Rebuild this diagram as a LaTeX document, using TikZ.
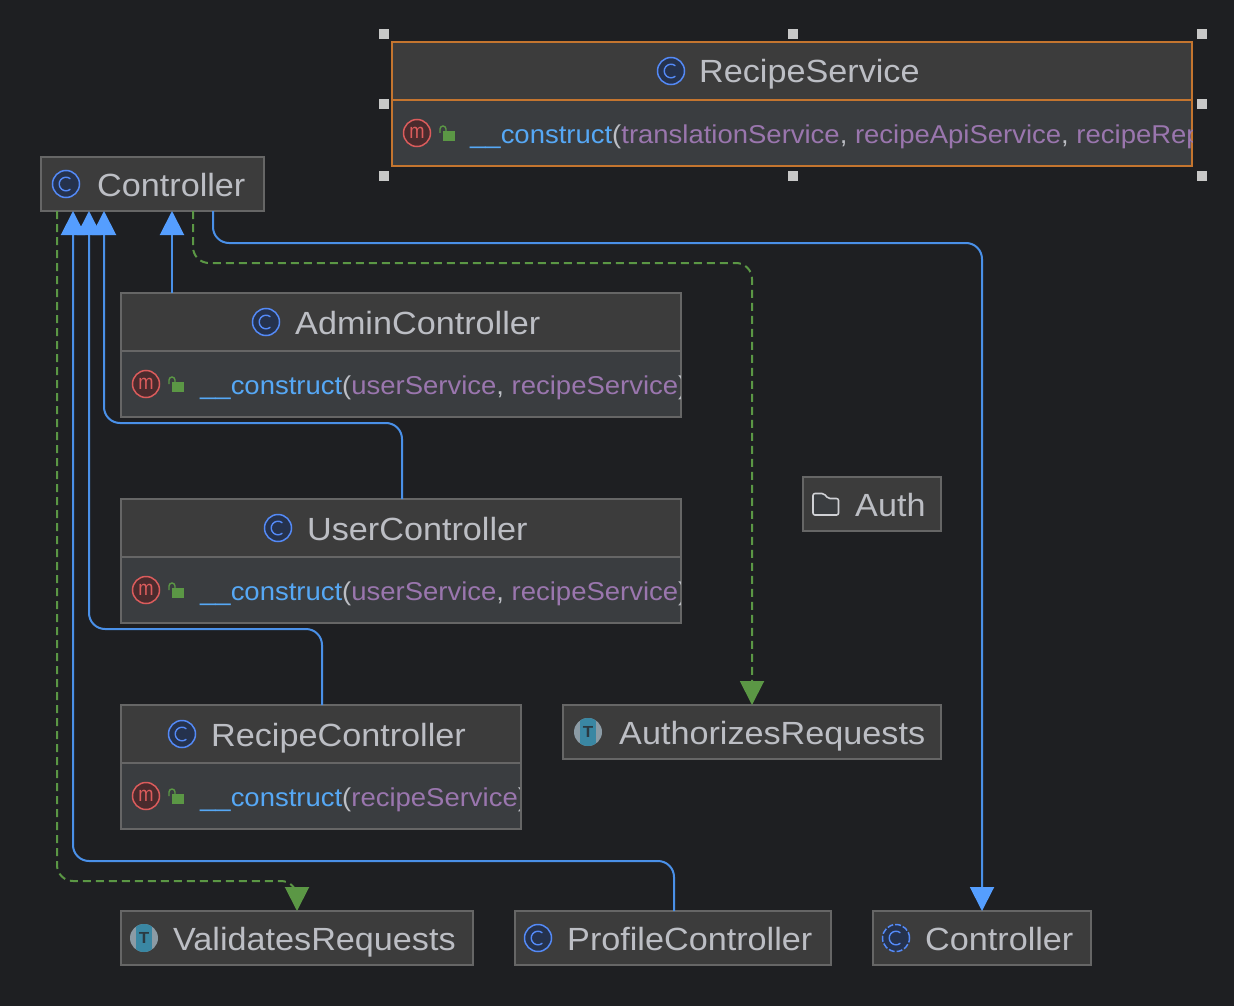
\documentclass[tikz,border=0pt]{standalone}
\usepackage{fontspec}
\setmainfont[FakeStretch=1.065]{Liberation Sans}
\usetikzlibrary{arrows.meta,calc}
\definecolor{bgc}{HTML}{1E1F22}
\definecolor{headc}{HTML}{3C3C3C}
\definecolor{rowc}{HTML}{3A3D40}
\definecolor{edgec}{HTML}{666666}
\definecolor{orangec}{HTML}{C4752F}
\definecolor{textc}{HTML}{BCBEC4}
\definecolor{methc}{HTML}{56A8F5}
\definecolor{parc}{HTML}{9A76AE}
\definecolor{linkc}{HTML}{4A90E8}
\definecolor{tipc}{HTML}{559EFF}
\definecolor{greenc}{HTML}{5B9745}
\definecolor{iconb}{HTML}{548AF7}
\definecolor{iconbf}{HTML}{25324D}
\definecolor{iconr}{HTML}{DB5C5C}
\definecolor{iconrf}{HTML}{4A2B2D}
\definecolor{teal}{HTML}{3A87A3}
\definecolor{tgray}{HTML}{8B9BA5}
\definecolor{handlec}{HTML}{C8C8C8}
\definecolor{foldc}{HTML}{D0D1D5}
\definecolor{tdark}{HTML}{2B3A42}
\tikzset{
  box/.style={draw=edgec,line width=1.2pt,fill=headc,inner sep=0pt,outer sep=0pt,anchor=north west,minimum height=54pt},
  headbox/.style={box,minimum height=58pt},
  rowbox/.style={box,fill=rowc,minimum height=66pt},
  sel/.style={draw=orangec},
  title/.style={anchor=base west,inner sep=0pt,text=textc,font=\fontsize{32.1}{36}\selectfont},
  member/.style={anchor=base west,inner sep=0pt,text=textc,font=\fontsize{25.8}{30}\selectfont},
  iconc/.style={circle,draw=iconb,fill=iconbf,line width=1.5pt,minimum size=27pt,inner sep=0pt,outer sep=0pt},
  iconm/.style={circle,draw=iconr,fill=iconrf,line width=1.5pt,minimum size=27pt,inner sep=0pt,outer sep=0pt,text=iconr,font=\fontsize{20}{20}\selectfont},
  handle/.style={fill=handlec,draw=none,minimum size=10pt,inner sep=0pt,outer sep=0pt},
  ext/.style={draw=linkc,line width=2pt,rounded corners=16pt,-{Triangle[width=24pt,length=24pt,color=tipc]}},
  impl/.style={draw=greenc,line width=2pt,rounded corners=16pt,dash pattern=on 8pt off 5pt,-{Triangle[width=24pt,length=24pt,color=greenc,sep=0pt]}},
}
\newcommand{\cicon}[3]{%
  \node[iconc] (#1) at (#2,#3) {};
  \draw[iconb,line width=1.4pt] ([shift={(50:6.8pt)}]#1.center) arc[start angle=50,end angle=310,radius=6.8pt];}
\newcommand{\ciconabs}[3]{%
  \node[iconc,dash pattern=on 6pt off 2pt] (#1) at (#2,#3) {};
  \draw[iconb,line width=1.4pt] ([shift={(50:6.8pt)}]#1.center) arc[start angle=50,end angle=310,radius=6.8pt];}
\newcommand{\micon}[3]{%
  \node[iconm] (#1) at (#2,#3) {\scalebox{.86}[1.05]{m}};}
\newcommand{\lockicon}[2]{%
  \fill[greenc] (#1-2,#2-2) rectangle (#1+10,#2+8);
  \draw[greenc,line width=1.4pt] (#1-5,#2) -- (#1-5,#2-4) arc[start angle=180,end angle=0,x radius=3pt,y radius=3pt] -- (#1+1,#2-2);}
\newcommand{\ticon}[3]{%
  \begin{scope}
    \node[circle,fill=tgray,minimum size=28pt,inner sep=0pt,outer sep=0pt] (#1) at (#2,#3) {};
    \clip (#1) circle[radius=14pt];
    \fill[teal] ([xshift=-8pt,yshift=-15pt]#1.center) rectangle ([xshift=8pt,yshift=15pt]#1.center);
  \end{scope}
  \node[inner sep=0pt,text=tdark,font=\fontsize{16}{16}\selectfont\bfseries] at (#1.center) {T};}
\newcommand{\hl}[1]{\textcolor{methc}{#1}}
\newcommand{\pr}[1]{\textcolor{parc}{#1}}
\begin{document}
\begin{tikzpicture}[x=1pt,y=-1pt]
\useasboundingbox (0,0) rectangle (1234,1006);
\fill[bgc] (0,0) rectangle (1234,1006);

% RecipeService
\node[headbox,sel,minimum width=800pt] (rsh) at (392,42) {};
\node[rowbox,sel,minimum width=800pt] (rsr) at (392,100) {};
\cicon{rsi}{671}{71}
\node[title] (rst) at (699,83) {RecipeService};
\micon{rsm}{417}{133}
\lockicon{445}{133}
\begin{scope}
\clip (rsr.north west) rectangle (rsr.south east);
\node[member] (rsx) at (470,143.5) {\hl{\_\_construct}(\pr{translationService}, \pr{recipeApiService}, \pr{recipeRepository})};
\end{scope}
\foreach \n/\x/\y in {h1/384/34,h2/793/34,h3/1202/34,h4/384/104,h5/1202/104,h6/384/176,h7/793/176,h8/1202/176}
  \node[handle] (\n) at (\x,\y) {};

% Controller
\node[box,minimum width=223pt] (ctrl) at (41,157) {};
\cicon{cti}{66}{184}
\node[title] (ctt) at (97,196) {Controller};

% AdminController
\node[headbox,minimum width=560pt] (adh) at (121,293) {};
\node[rowbox,minimum width=560pt] (adr) at (121,351) {};
\cicon{adi}{266}{322}
\node[title] (adt) at (295,334) {AdminController};
\micon{adm}{146}{384}
\lockicon{174}{384}
\begin{scope}
\clip (adr.north west) rectangle ([xshift=-1pt]adr.south east);
\node[member] (adx) at (200,394.5) {\hl{\_\_construct}(\pr{userService}, \pr{recipeService})};
\end{scope}

% UserController
\node[headbox,minimum width=560pt] (ush) at (121,499) {};
\node[rowbox,minimum width=560pt] (usr) at (121,557) {};
\cicon{usi}{278}{528}
\node[title] (ust) at (307,540) {UserController};
\micon{usm}{146}{590}
\lockicon{174}{590}
\begin{scope}
\clip (usr.north west) rectangle ([xshift=-1pt]usr.south east);
\node[member] (usx) at (200,600.5) {\hl{\_\_construct}(\pr{userService}, \pr{recipeService})};
\end{scope}

% RecipeController
\node[headbox,minimum width=400pt] (rch) at (121,705) {};
\node[rowbox,minimum width=400pt] (rcr) at (121,763) {};
\cicon{rci}{182}{734}
\node[title] (rct) at (211,746) {RecipeController};
\micon{rcm}{146}{796}
\lockicon{174}{796}
\begin{scope}
\clip (rcr.north west) rectangle ([xshift=-2pt]rcr.south east);
\node[member] (rcx) at (200,806.5) {\hl{\_\_construct}(\pr{recipeService})};
\end{scope}

% Auth
\node[box,minimum width=138pt] (auth) at (803,477) {};
\draw[draw=foldc,fill=rowc,line width=1.6pt,rounded corners=2pt,line join=round] (813,493.5) -- (824,493.5) -- (828,498.5) -- (838.5,498.5) -- (838.5,515) -- (813,515) -- cycle;
\node[title] (autht) at (855,516) {Auth};

% AuthorizesRequests
\node[box,minimum width=378pt] (areq) at (563,705) {};
\ticon{ari}{588}{732}
\node[title] (art) at (619,744) {AuthorizesRequests};

% ValidatesRequests
\node[box,minimum width=352pt] (vreq) at (121,911) {};
\ticon{vri}{144}{938}
\node[title] (vrt) at (173,950) {ValidatesRequests};

% ProfileController
\node[box,minimum width=316pt] (prof) at (515,911) {};
\cicon{pfi}{538}{938}
\node[title] (pft) at (567,950) {ProfileController};

% Controller (external)
\node[box,minimum width=218pt] (ctr2) at (873,911) {};
\ciconabs{c2i}{896}{938}
\node[title] (c2t) at (925,950) {Controller};

% Connectors
\draw[ext] ([xshift=51pt]adh.north west) -- ([xshift=131pt]ctrl.south west);
\draw[ext] ([xshift=281pt]ush.north west) -- ++(0,-76) -| ([xshift=63pt]ctrl.south west);
\draw[ext] ([xshift=201pt]rch.north west) -- ++(0,-76) -| ([xshift=48pt]ctrl.south west);
\draw[ext] ([xshift=159pt]prof.north west) -- ++(0,-50) -| ([xshift=32pt]ctrl.south west);
\draw[ext] ([xshift=172pt]ctrl.south west) -- ++(0,32) -| ([xshift=109pt]ctr2.north west);
\draw[impl] ([xshift=152pt]ctrl.south west) -- ++(0,52) -| ([xshift=189pt]areq.north west);
\draw[impl] ([xshift=16pt]ctrl.south west) -- ++(0,670) -| ([xshift=176pt]vreq.north west);
\end{tikzpicture}
\end{document}
